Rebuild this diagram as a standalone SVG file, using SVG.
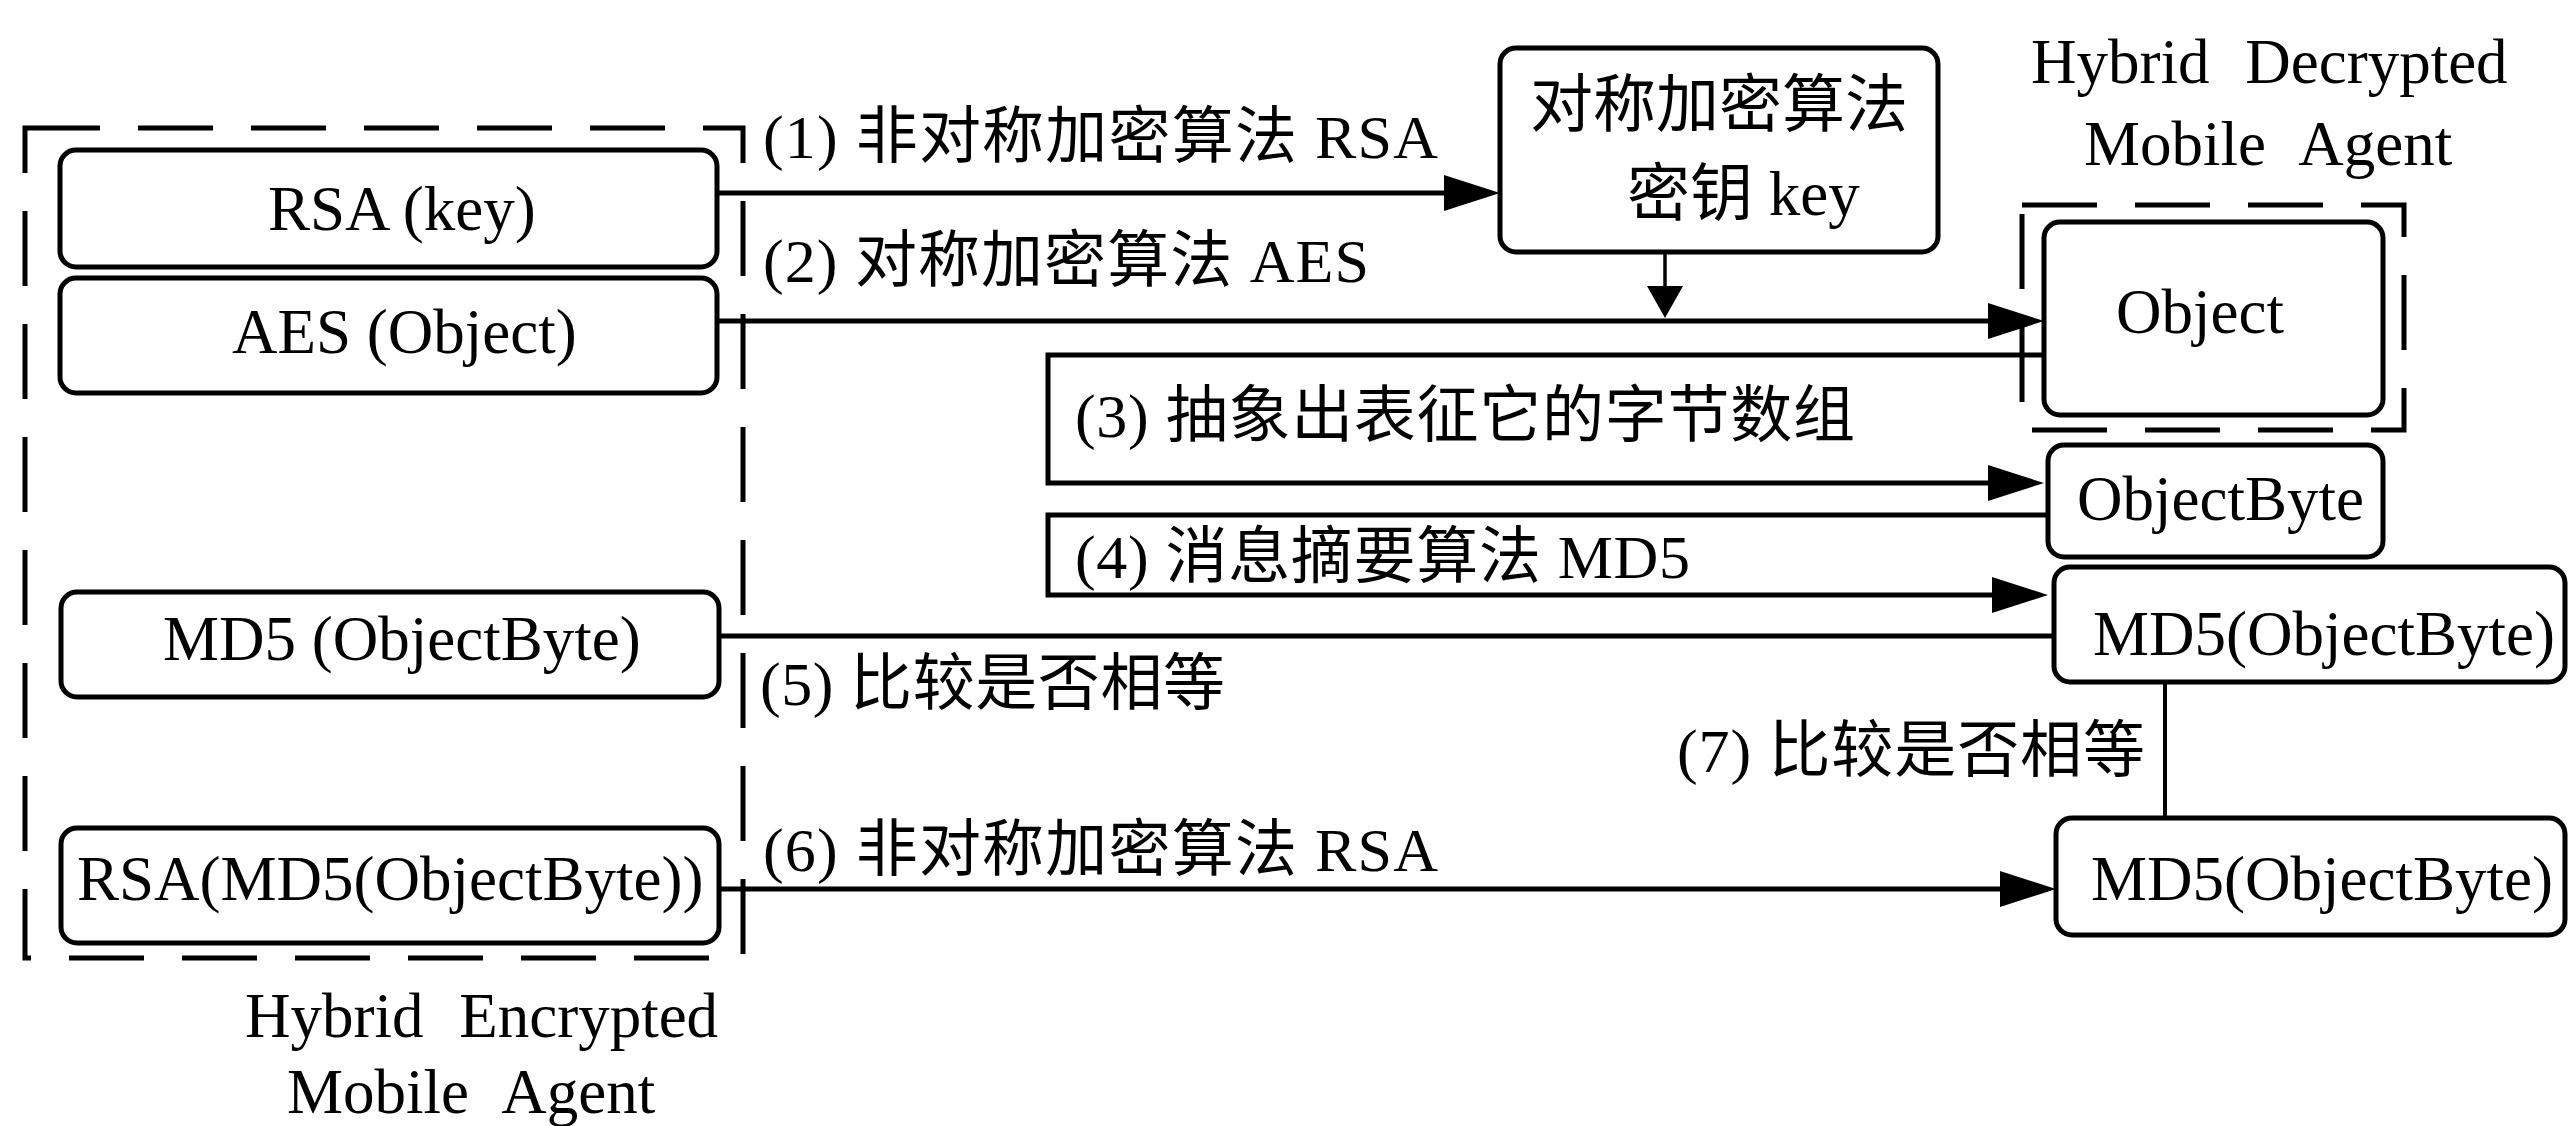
<svg xmlns="http://www.w3.org/2000/svg" width="2570" height="1126" viewBox="0 0 2570 1126">
  <style>
    text { font-family: "Liberation Serif", "Noto Sans CJK SC", serif; fill: #000; }
    .node { font-size: 63px; }
    .lbl { font-size: 62px; }
    .title { font-size: 63px; word-spacing: 20px; }
    .box { fill: #fff; stroke: #000; stroke-width: 5; }
    .group { fill: none; stroke: #000; stroke-width: 5; stroke-dasharray: 75 38; }
    .wire { fill: none; stroke: #000; stroke-width: 5; }
    .thin { fill: none; stroke: #000; stroke-width: 3.5; }
  </style>
  <defs>
    <marker id="arrow" markerUnits="userSpaceOnUse" viewBox="0 0 56 36" markerWidth="56" markerHeight="36" refX="36" refY="18" orient="auto">
      <path d="M0,0 L56,18 L0,36 Z" fill="#000"/>
    </marker>
    <marker id="arrowShort" markerUnits="userSpaceOnUse" viewBox="0 0 32 36" markerWidth="32" markerHeight="36" refX="16" refY="18" orient="auto">
      <path d="M0,0 L32,18 L0,36 Z" fill="#000"/>
    </marker>
  </defs>
  <rect width="2570" height="1126" fill="#fff"/>

  <!-- agent boundaries -->
  <g id="encrypted-agent">
    <rect class="group" x="25" y="128" width="718" height="830"/>
    <text class="title" x="245" y="1037">Hybrid Encrypted</text>
    <text class="title" x="287" y="1113">Mobile Agent</text>
  </g>
  <g id="decrypted-agent">
    <rect class="group" x="2022" y="205" width="382" height="225"/>
    <text class="title" x="2031" y="83">Hybrid Decrypted</text>
    <text class="title" x="2084" y="165">Mobile Agent</text>
  </g>

  <!-- connectors -->
  <g id="connectors">
    <path class="wire" d="M717,193 H1480" marker-end="url(#arrow)"/>
    <path class="wire" d="M717,321 H2024" marker-end="url(#arrow)"/>
    <path class="thin" d="M1665,252 V302" marker-end="url(#arrowShort)"/>
    <path class="wire" d="M2044,355 H1048 V483 H2024" marker-end="url(#arrow)"/>
    <path class="wire" d="M2048,515 H1048 V595 H2028" marker-end="url(#arrow)"/>
    <path class="wire" d="M719,636 H2054"/>
    <path class="wire" d="M719,889 H2036" marker-end="url(#arrow)"/>
    <path class="thin" d="M2165,682 V818" style="stroke-width:4"/>
    <text class="lbl" x="763" y="158" textLength="675">(1) 非对称加密算法 RSA</text>
    <text class="lbl" x="763" y="282" textLength="606">(2) 对称加密算法 AES</text>
    <text class="lbl" x="1075" y="437" textLength="780">(3) 抽象出表征它的字节数组</text>
    <text class="lbl" x="1075" y="578" textLength="615">(4) 消息摘要算法 MD5</text>
    <text class="lbl" x="760" y="705" textLength="465">(5) 比较是否相等</text>
    <text class="lbl" x="763" y="871" textLength="675">(6) 非对称加密算法 RSA</text>
    <text class="lbl" x="1677" y="772" textLength="468">(7) 比较是否相等</text>
  </g>

  <!-- sender side -->
  <g id="rsa-key">
    <rect class="box" x="60" y="150" width="657" height="117" rx="16"/>
    <text class="node" x="268" y="230">RSA (key)</text>
  </g>
  <g id="aes-object">
    <rect class="box" x="60" y="278" width="657" height="115" rx="16"/>
    <text class="node" x="232" y="353">AES (Object)</text>
  </g>
  <g id="md5-objectbyte-sent">
    <rect class="box" x="61" y="592" width="658" height="105" rx="16"/>
    <text class="node" x="163" y="660">MD5 (ObjectByte)</text>
  </g>
  <g id="rsa-md5-objectbyte">
    <rect class="box" x="61" y="828" width="658" height="115" rx="16"/>
    <text class="node" x="77" y="900">RSA(MD5(ObjectByte))</text>
  </g>

  <!-- receiver side -->
  <g id="symmetric-key">
    <rect class="box" x="1500" y="48" width="438" height="204" rx="16"/>
    <text class="node" x="1530" y="126" textLength="378">对称加密算法</text>
    <text class="node" x="1627" y="215">密钥 key</text>
  </g>
  <g id="object">
    <rect class="box" x="2044" y="222" width="339" height="193" rx="16"/>
    <text class="node" x="2116" y="333">Object</text>
  </g>
  <g id="objectbyte">
    <rect class="box" x="2048" y="445" width="335" height="112" rx="16"/>
    <text class="node" x="2077" y="520">ObjectByte</text>
  </g>
  <g id="md5-computed">
    <rect class="box" x="2054" y="567" width="511" height="115" rx="16"/>
    <text class="node" x="2093" y="655">MD5(ObjectByte)</text>
  </g>
  <g id="md5-decrypted">
    <rect class="box" x="2056" y="818" width="509" height="117" rx="16"/>
    <text class="node" x="2091" y="900">MD5(ObjectByte)</text>
  </g>
</svg>
